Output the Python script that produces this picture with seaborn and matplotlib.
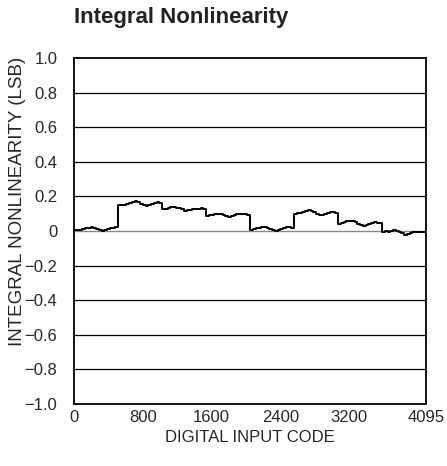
import matplotlib
matplotlib.use("Agg")
import matplotlib.pyplot as plt
import seaborn as sns
import pandas as pd

codes = list(range(0, 4096, 32)) + [4095]
inl = [
    # 0 - 511
    0.004, 0.008, 0.006, 0.012, 0.016, 0.020, 0.024, 0.018,
    0.012, 0.006, 0.000, 0.004, 0.010, 0.016, 0.020, 0.024,
    # 512 - 1023
    0.148, 0.152, 0.150, 0.158, 0.162, 0.166, 0.172, 0.166,
    0.158, 0.152, 0.147, 0.153, 0.156, 0.160, 0.165, 0.162,
    # 1024 - 1535
    0.126, 0.130, 0.132, 0.136, 0.138, 0.134, 0.132, 0.126,
    0.118, 0.122, 0.120, 0.126, 0.130, 0.128, 0.132, 0.126,
    # 1536 - 2047
    0.088, 0.092, 0.090, 0.096, 0.100, 0.096, 0.092, 0.086,
    0.082, 0.088, 0.090, 0.096, 0.100, 0.096, 0.098, 0.094,
    # 2048 - 2559
    0.008, 0.012, 0.016, 0.020, 0.026, 0.022, 0.020, 0.012,
    0.004, 0.002, 0.008, 0.012, 0.018, 0.022, 0.024, 0.020,
    # 2560 - 3071
    0.098, 0.104, 0.102, 0.110, 0.116, 0.120, 0.114, 0.108,
    0.096, 0.090, 0.094, 0.100, 0.106, 0.110, 0.108, 0.104,
    # 3072 - 3583
    0.042, 0.046, 0.050, 0.056, 0.060, 0.056, 0.050, 0.042,
    0.034, 0.030, 0.036, 0.042, 0.048, 0.052, 0.048, 0.046,
    # 3584 - 4095
    -0.006, -0.002, -0.004, 0.002, 0.005, 0.000, -0.008, -0.014,
    -0.022, -0.018, -0.014, -0.008, -0.004, -0.008, -0.004, -0.006,
    -0.004,
]
x_ticks = [0, 800, 1600, 2400, 3200, 4095]
y_ticks = [1.0, 0.8, 0.6, 0.4, 0.2, 0.0, -0.2, -0.4, -0.6, -0.8, -1.0]
y_labels = ["1.0", "0.8", "0.6", "0.4", "0.2", "0", "\u22120.2", "\u22120.4",
            "\u22120.6", "\u22120.8", "\u22121.0"]

df = pd.DataFrame({"code": codes, "inl": inl})

sns.set_style("white")
plt.rcParams["font.family"] = ["Liberation Sans", "DejaVu Sans"]

fig = plt.figure(figsize=(4.47, 4.66), dpi=100)
ax = fig.add_axes([74 / 447, 1 - 404 / 466, 352 / 447, 346 / 466])

# horizontal grid
for yv in y_ticks:
    if yv == 0.0:
        ax.axhline(yv, color="#888888", lw=1.0, zorder=1)
    elif abs(yv) < 1.0:
        ax.axhline(yv, color="black", lw=0.9, zorder=1)

sns.lineplot(data=df, x="code", y="inl", ax=ax, color="black", lw=1.4,
             drawstyle="steps-post", zorder=3)

ax.set_xlim(0, 4095)
ax.set_ylim(-1.0, 1.0)
ax.set_xticks(x_ticks)
ax.set_xticklabels([str(t) for t in x_ticks])
ax.set_yticks(y_ticks)
ax.set_yticklabels(y_labels)
ax.tick_params(length=0, labelsize=12)
ax.tick_params(axis="x", pad=4)
ax.tick_params(axis="y", pad=12)
for s in ax.spines.values():
    s.set_color("black")
    s.set_linewidth(1.3)

ax.set_xlabel("DIGITAL INPUT CODE", fontsize=12, labelpad=4)
ax.set_ylabel("INTEGRAL NONLINEARITY (LSB)", fontsize=13.5)
ax.yaxis.set_label_coords(-0.135, 0.585)
fig.text(74 / 447, 1 - 17 / 466, "Integral Nonlinearity", fontsize=16,
         fontweight="bold", ha="left", va="center", color="#222222")

fig.savefig("out.png", dpi=100)
